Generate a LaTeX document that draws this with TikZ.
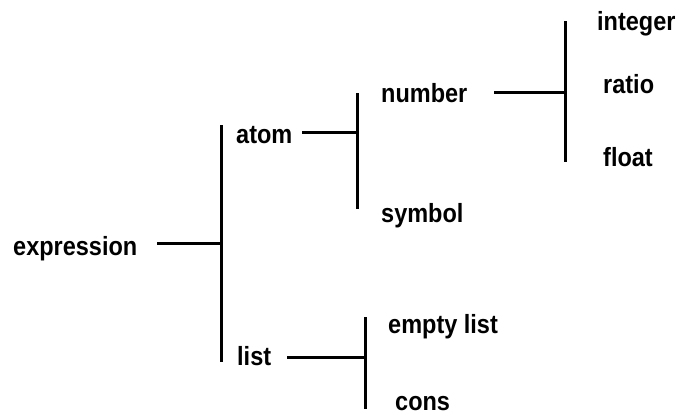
\documentclass[tikz,border=0pt]{standalone}
\usepackage{fontspec}
\usepackage{graphicx}
\setmainfont{Liberation Sans}
\newcommand{\tallt}[1]{\scalebox{1}[1.12]{#1}}
\begin{document}
\begin{tikzpicture}[x=1pt,y=-1pt,
  lbl/.style={anchor=base west,inner sep=0pt,font=\fontsize{23.5}{28}\selectfont\bfseries},
  conn/.style={line width=3pt}]
\useasboundingbox (0,0) rectangle (679,416);
% labels
\node[lbl] (expression) at (13,255) {\tallt{expression}};
\node[lbl] (atom) at (236,143) {\tallt{atom}};
\node[lbl] (list) at (237,365) {\tallt{list}};
\node[lbl] (number) at (381,102) {\tallt{number}};
\node[lbl] (symbol) at (381,222) {\tallt{symbol}};
\node[lbl] (integer) at (597,30) {\tallt{integer}};
\node[lbl] (ratio) at (603,93) {\tallt{ratio}};
\node[lbl] (float) at (603,166) {\tallt{float}};
\node[lbl] (emptylist) at (388,333) {\tallt{empty list}};
\node[lbl] (cons) at (395,410) {\tallt{cons}};
% bracket coordinates
\coordinate (b1t) at (221,125);
\coordinate (b1m) at (221,243);
\coordinate (b1b) at (221,362);
\coordinate (e1) at (157,243);
\coordinate (b2t) at (357,93);
\coordinate (b2m) at (357,132);
\coordinate (b2b) at (357,209);
\coordinate (e2) at (302,132);
\coordinate (b3t) at (565,21);
\coordinate (b3m) at (565,92);
\coordinate (b3b) at (565,162);
\coordinate (e3) at (494,92);
\coordinate (b4t) at (365,317);
\coordinate (b4m) at (365,357);
\coordinate (b4b) at (365,409);
\coordinate (e4) at (287,357);
% connectors
\draw[conn] (b1t) -- (b1b);
\draw[conn] (e1) -- (b1m);
\draw[conn] (b2t) -- (b2b);
\draw[conn] (e2) -- (b2m);
\draw[conn] (b3t) -- (b3b);
\draw[conn] (e3) -- (b3m);
\draw[conn] (b4t) -- (b4b);
\draw[conn] (e4) -- (b4m);
\end{tikzpicture}
\end{document}
